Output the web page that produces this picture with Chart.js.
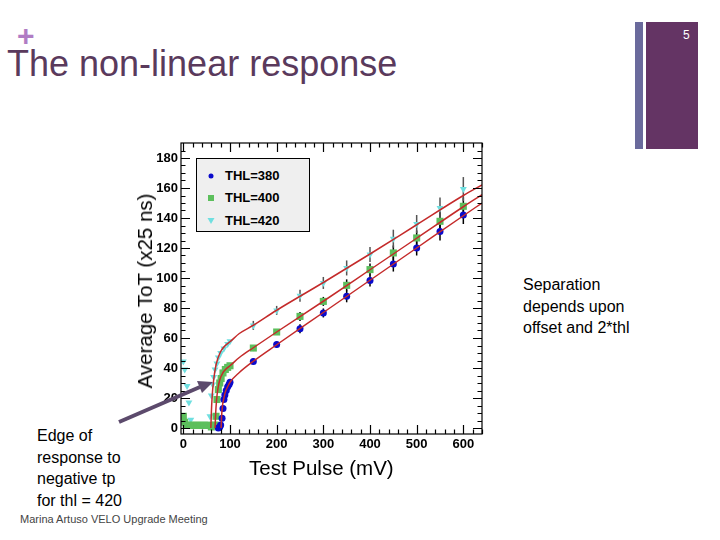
<!DOCTYPE html>
<html>
<head>
<meta charset="utf-8">
<script src="https://cdn.jsdelivr.net/npm/chart.js@4/dist/chart.umd.min.js"></script>
<style>
  body { margin: 0; background: #fff; font-family: "Liberation Sans", Arial, Helvetica, sans-serif; }
  #page { position: relative; width: 720px; height: 540px; overflow: hidden; background: #fff; }
  .abs { position: absolute; }
  #plus { left: 17px; top: 21px; font-size: 30px; font-weight: bold; color: #b07cc4; line-height: 30px; }
  #title { left: 7px; top: 43px; font-size: 36px; color: #5a3a5c; line-height: 42px; white-space: nowrap; }
  #barThin { left: 635px; top: 22px; width: 8px; height: 127px; background: #6a6a9c; }
  #barBig { left: 646px; top: 22px; width: 52px; height: 127px; background: #643464; }
  #pageNo { left: 683px; top: 28px; font-size: 12px; color: #fff; }
  #sep { left: 523px; top: 274px; font-size: 16px; line-height: 21.5px; color: #000; }
  #edge { left: 37px; top: 425px; font-size: 16px; line-height: 21.5px; color: #000; }
  #foot { left: 20px; top: 513px; font-size: 11px; color: #444; white-space: nowrap; }
  #ytitle { left: 145px; top: 291px; font-size: 20.5px; color: #000; white-space: nowrap;
            transform: translate(-50%, -50%) rotate(-90deg); }
  #xtitle { left: 249px; top: 456px; font-size: 20.5px; color: #000; white-space: nowrap; }
  #legend { left: 196px; top: 158px; width: 112px; height: 72px; background: #efefef; border: 1px solid #000;
            font-size: 13px; font-weight: bold; color: #000; }
  #legend .row { position: absolute; left: 0; height: 16px; line-height: 16px; }
  #legend .row span { position: absolute; left: 28px; white-space: nowrap; }
  #legend svg { position: absolute; left: 9px; top: 3px; }
</style>
</head>
<body>
<div id="page">
  <div id="plus" class="abs">+</div>
  <div id="title" class="abs">The non-linear response</div>
  <div id="barThin" class="abs"></div>
  <div id="barBig" class="abs"></div>
  <div id="pageNo" class="abs">5</div>

  <canvas id="myChart" class="abs" width="370" height="330" style="left:130px;top:130px;"></canvas>

  <div id="ytitle" class="abs">Average ToT (x25 ns)</div>
  <div id="xtitle" class="abs">Test Pulse (mV)</div>

  <div id="legend" class="abs">
    <div class="row" style="top:9px;"><svg width="10" height="10"><circle cx="5" cy="5" r="2.5" fill="#0a0acc"/></svg><span>THL=380</span></div>
    <div class="row" style="top:31px;"><svg width="10" height="10"><rect x="2" y="2" width="6" height="6" fill="#5cbf5c"/></svg><span>THL=400</span></div>
    <div class="row" style="top:54px;"><svg width="10" height="10"><polygon points="1.5,2 8.5,2 5,8" fill="#6fdfe0"/></svg><span>THL=420</span></div>
  </div>

  <div id="sep" class="abs">Separation<br>depends upon<br>offset and 2*thl</div>
  <div id="edge" class="abs">Edge of<br>response to<br>negative tp<br>for thl = 420</div>
  <div id="foot" class="abs">Marina Artuso VELO Upgrade Meeting</div>

  <svg class="abs" style="left:0;top:0;" width="720" height="540">
    <line x1="119" y1="422" x2="200" y2="387" stroke="#5c4a6c" stroke-width="4"/>
    <polygon points="213,382 197,381 202,393" fill="#5c4a6c"/>
  </svg>
</div>

<script>
// data
const thl380X = [75, 78, 80, 83, 85, 87, 89, 92, 95, 98, 100, 150, 200, 250, 300, 350, 400, 450, 500, 550, 600];
const thl380Y = [0, 0.7, 2, 6.5, 13, 19, 22, 25, 27.5, 29, 30.5, 44.4, 55.6, 66.2, 76.7, 87.8, 98.4, 109.3, 120, 131, 142];

const thl400X = [0, 3, 6, 10, 15, 20, 25, 30, 35, 40, 45, 50, 55, 60, 65, 68, 70, 72, 75, 78, 81, 85, 90, 95, 100,
                 150, 200, 250, 300, 350, 400, 450, 500, 550, 600];
const thl400Y = [7.8, 3.8, 1.8, 1.8, 1.8, 1.8, 1.8, 1.8, 1.8, 1.8, 1.8, 1.8, 1.8, 0.7, 1.5, 2, 7.8, 19, 25.6, 30, 33, 36.7, 39, 40.4, 41.5,
                 53.3, 64, 74.4, 84.4, 95.1, 105.6, 116.7, 126.7, 137.8, 147.8];

const thl420X = [0, 3, 8, 12, 16, 20, 25, 30, 35, 40, 45, 50, 55, 57, 60, 63, 65, 68, 72, 75, 80, 87, 95, 100,
                 150, 200, 250, 300, 350, 400, 450, 500, 550, 600];
const thl420Y = [44.4, 39, 28, 17, 5.5, 2.2, 2.2, 2.2, 2.2, 2.2, 2.2, 2.2, 2.2, 7.8, 21.6, 29, 34, 39, 43, 47, 50, 53, 56, 57.8,
                 68.4, 78.4, 88.2, 96.7, 106.7, 115.6, 126.2, 136, 146.7, 159.3];

// error bars on the high points
const errX = [150, 200, 250, 300, 350, 400, 450, 500, 550, 600];
const err380 = [2, 2, 3, 3, 4, 4, 5, 5, 6, 6];
const err400 = [2, 2, 3, 3, 4, 4, 5, 5, 6, 6];
const err420 = [3, 3, 4, 4, 5, 5, 6, 6, 7, 8];

// fit curves (red)
const fit380X = [81, 82, 84, 87, 90, 95, 100, 120, 150, 200, 300, 400, 500, 600, 640];
const fit380Y = [0, 8, 15, 20, 24, 27.5, 30.5, 37, 44.5, 55.5, 77, 98.5, 120, 141.5, 150];
const fit400X = [68, 69, 71, 74, 78, 85, 92, 100, 120, 150, 200, 300, 400, 500, 600, 640];
const fit400Y = [0, 8, 18, 26, 32, 37, 39.5, 41.5, 47, 53.5, 64, 84.5, 105.5, 126.5, 147.5, 155.5];
const fit420X = [59, 60, 62, 65, 70, 80, 90, 100, 120, 150, 200, 300, 400, 500, 600, 640];
const fit420Y = [0, 10, 22, 32, 42, 51, 55, 57.5, 63, 68.5, 78.5, 97, 116, 135.5, 155, 162];

const pts = (xs, ys) => xs.map((x, i) => ({ x: x, y: ys[i] }));

const blue = '#0a0acc';
const green = '#5cbf5c';
const cyan = '#6fdfe0';
const red = '#c42a2a';

// error bars + ROOT style frame with inward ticks
const rootFrame = {
    id: 'rootFrame',
    beforeDatasetsDraw(chart) {
        const ctx = chart.ctx;
        const xs = chart.scales.x, ys = chart.scales.y;
        const bars = [[err380, thl380X, thl380Y, '#000'], [err400, thl400X, thl400Y, '#000'], [err420, thl420X, thl420Y, '#555']];
        ctx.save();
        ctx.lineWidth = 1.5;
        bars.forEach(([err, xArr, yArr, col]) => {
            ctx.strokeStyle = col;
            errX.forEach((x, i) => {
                const k = xArr.indexOf(x);
                if (k < 0) return;
                const px = xs.getPixelForValue(x);
                ctx.beginPath();
                ctx.moveTo(px, ys.getPixelForValue(yArr[k] - err[i]));
                ctx.lineTo(px, ys.getPixelForValue(yArr[k] + err[i]));
                ctx.stroke();
            });
        });
        ctx.restore();
    },
    afterDraw(chart) {
        const ctx = chart.ctx;
        const a = chart.chartArea;
        const xs = chart.scales.x, ys = chart.scales.y;
        ctx.save();
        ctx.strokeStyle = '#000';
        ctx.lineWidth = 1.2;
        ctx.strokeRect(a.left, a.top, a.right - a.left, a.bottom - a.top);
        ctx.beginPath();
        for (let v = 0; v <= 185; v += 5) {
            const py = Math.round(ys.getPixelForValue(v)) + 0.5;
            const len = v % 20 === 0 ? 9 : 4.5;
            ctx.moveTo(a.left, py); ctx.lineTo(a.left + len, py);
            ctx.moveTo(a.right, py); ctx.lineTo(a.right - len, py);
        }
        for (let v = 0; v <= 640; v += 20) {
            const px = Math.round(xs.getPixelForValue(v)) + 0.5;
            const len = v % 100 === 0 ? 9 : 4.5;
            ctx.moveTo(px, a.bottom); ctx.lineTo(px, a.bottom - len);
            ctx.moveTo(px, a.top); ctx.lineTo(px, a.top + len);
        }
        ctx.stroke();
        ctx.restore();
    }
};

const tickFont = { family: '"Liberation Sans", Arial, Helvetica, sans-serif', size: 13, weight: 'bold' };
const noGrid = { display: false, drawTicks: false, tickLength: 0 };

new Chart(document.getElementById('myChart').getContext('2d'), {
    type: 'scatter',
    data: {
        datasets: [
            { data: pts(fit380X, fit380Y), showLine: true, borderColor: red, borderWidth: 1.5, pointRadius: 0, cubicInterpolationMode: 'monotone' },
            { data: pts(fit400X, fit400Y), showLine: true, borderColor: red, borderWidth: 1.5, pointRadius: 0, cubicInterpolationMode: 'monotone' },
            { data: pts(fit420X, fit420Y), showLine: true, borderColor: red, borderWidth: 1.5, pointRadius: 0, cubicInterpolationMode: 'monotone' },
            { label: 'THL=380', data: pts(thl380X, thl380Y), pointStyle: 'circle', pointRadius: 3.5,
              backgroundColor: blue, borderColor: blue, borderWidth: 0 },
            { label: 'THL=400', data: pts(thl400X, thl400Y), pointStyle: 'rect', pointRadius: 5,
              backgroundColor: green, borderColor: green, borderWidth: 0 },
            { label: 'THL=420', data: pts(thl420X, thl420Y), pointStyle: 'triangle', pointRotation: 180, pointRadius: 4,
              backgroundColor: cyan, borderColor: cyan, borderWidth: 0 }
        ]
    },
    options: {
        responsive: false,
        animation: false,
        events: [],
        layout: { padding: { top: 13, right: 18, left: 0, bottom: 0 } },
        plugins: { legend: { display: false }, tooltip: { enabled: false } },
        scales: {
            x: {
                type: 'linear', min: -5, max: 640,
                grid: noGrid, border: { display: false },
                ticks: { stepSize: 100, includeBounds: false, color: '#000', font: tickFont, padding: 3, maxRotation: 0 },
                afterFit: s => { s.height = 26; }
            },
            y: {
                type: 'linear', min: -4, max: 190,
                grid: noGrid, border: { display: false },
                ticks: { stepSize: 20, includeBounds: false, color: '#000', font: tickFont, padding: 3 },
                afterFit: s => { s.width = 51; }
            }
        }
    },
    plugins: [rootFrame]
});
</script>
</body>
</html>
